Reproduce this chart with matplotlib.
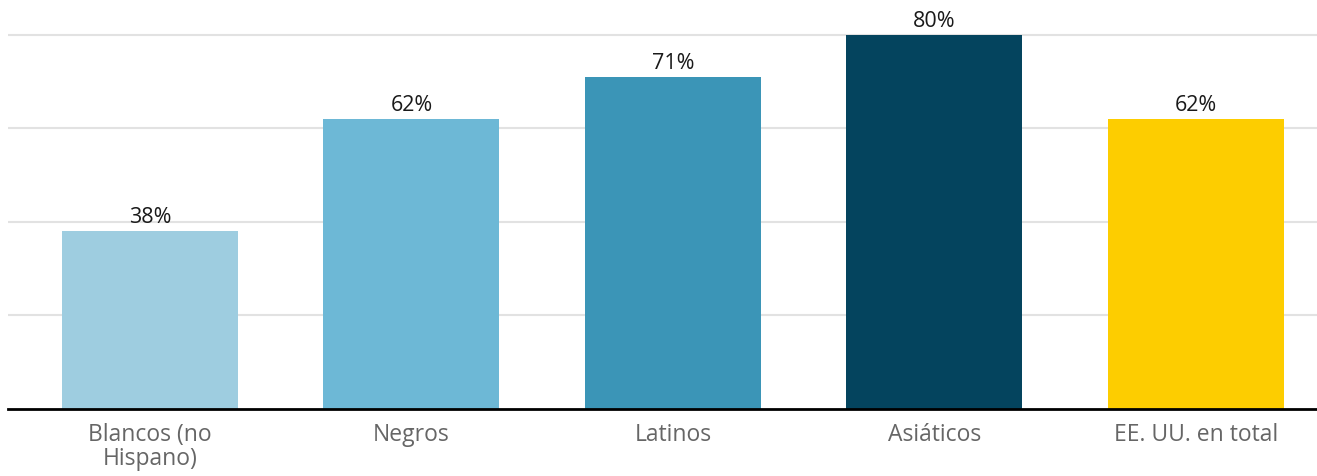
import matplotlib
matplotlib.use("Agg")
import matplotlib.pyplot as plt

categories = ["Blancos (no\nHispano)", "Negros", "Latinos", "Asiáticos", "EE. UU. en total"]
values = [38, 62, 71, 80, 62]
colors = ["#9ecde0", "#6db8d6", "#3b95b7", "#04445e", "#fdcd00"]
gridlines = [20, 40, 60, 80]

plt.rcParams["font.family"] = ["Open Sans", "DejaVu Sans"]

W, H = 1317, 477
fig = plt.figure(figsize=(W / 100, H / 100), dpi=100)

px_per_unit = (409.5 - 36) / 80
ytop = 85
ax_bottom = (H - 409.5) / H
ax_height = ytop * px_per_unit / H
ax = fig.add_axes([8 / W, ax_bottom, 1 - 8 / W, ax_height])

x = list(range(len(categories)))
ax.bar(x, values, width=0.673, color=colors, zorder=2)

for g in gridlines:
    ax.axhline(g, color="#e2e2e2", linewidth=1.5, zorder=1)

for xi, v in zip(x, values):
    ax.annotate(f"{v}%", (xi, v), xytext=(0, 3), textcoords="offset points",
                ha="center", va="bottom", fontsize=15.5, color="#1a1a1a")

ax.set_xlim(-0.543, 4.463)
ax.set_ylim(0, ytop)
ax.set_xticks(x)
ax.set_xticklabels(categories, fontsize=16.5, color="#666666", linespacing=1.0)
ax.tick_params(axis="x", length=0, pad=10)
ax.set_yticks([])

for side in ["top", "right", "left"]:
    ax.spines[side].set_visible(False)
ax.spines["bottom"].set_color("#000000")
ax.spines["bottom"].set_linewidth(2)
ax.spines["bottom"].set_zorder(3)

fig.savefig("out.png", dpi=100)
